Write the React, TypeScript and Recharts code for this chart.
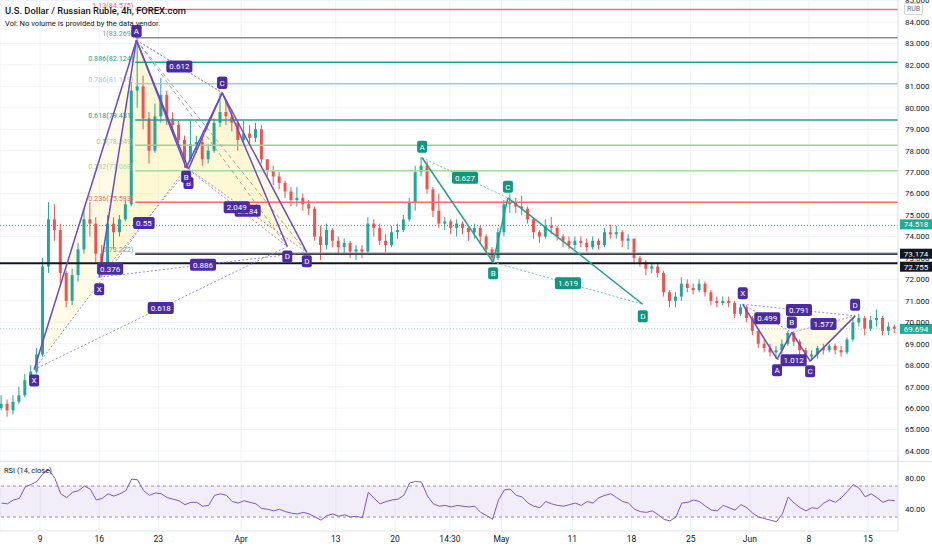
import React from 'react';
import {
  ComposedChart,
  Bar,
  Line,
  XAxis,
  YAxis,
  CartesianGrid,
  ReferenceLine,
  ReferenceDot,
  ReferenceArea,
} from 'recharts';

// half-day candles (index t)
const FIRST_OPEN = 66.0;
const closes = [
  66.2, 65.9, 66.3, 66.6, 67.3, 67.7, 68.5, 72.6, 74.8, 74.3,
  72.3, 71.0, 72.2, 73.4, 74.8, 74.6, 73.2, 72.8, 74.6, 74.2,
  74.8, 75.5, 80.8, 81.0, 79.5, 78.0, 79.6, 80.6, 79.5, 79.2,
  78.5, 77.6, 78.3, 78.4, 77.6, 78.0, 79.3, 79.8, 79.6, 79.3,
  78.5, 78.8, 78.6, 79.0, 77.6, 77.1, 76.8, 76.5, 76.1, 75.7,
  75.8, 75.5, 75.3, 74.0, 73.6, 74.3, 73.8, 73.5, 73.7, 73.3,
  73.4, 73.3, 74.6, 74.4, 73.8, 73.6, 74.2, 74.3, 74.8, 75.6,
  77.0, 77.3, 76.2, 75.2, 74.6, 74.7, 74.4, 74.6, 74.4, 74.2,
  74.4, 74.0, 73.4, 73.0, 74.2, 75.5, 75.6, 75.4, 75.3, 74.8,
  74.2, 74.0, 74.5, 74.4, 74.0, 73.8, 73.6, 73.8, 73.7, 73.5,
  73.8, 73.6, 74.2, 74.1, 74.2, 73.8, 73.9, 73.0, 72.8, 72.5,
  72.6, 72.3, 71.4, 71.0, 71.2, 71.8, 71.6, 71.5, 71.8, 71.4,
  71.0, 70.9, 71.0, 70.9, 70.4, 70.7, 70.2, 69.6, 69.0, 68.8,
  68.6, 68.7, 69.0, 69.5, 69.1, 68.7, 68.4, 68.5, 68.8, 68.7,
  68.9, 68.7, 68.6, 69.2, 70.0, 70.2, 69.7, 70.1, 70.2, 69.6,
  69.8, 69.694,
];
const highs = [
  66.6, 66.4, 66.6, 67.0, 67.6, 68.0, 68.8, 73.0, 75.6, 75.5,
  74.6, 72.4, 72.5, 73.7, 75.3, 75.6, 74.9, 73.6, 75.0, 74.9,
  75.0, 75.7, 81.2, 83.27, 81.5, 79.8, 80.2, 81.4, 80.8, 79.8,
  79.4, 78.7, 79.4, 78.7, 78.6, 78.3, 79.5, 80.7, 80.3, 79.9,
  79.4, 79.4, 79.2, 79.3, 79.2, 77.6, 77.3, 77.0, 76.6, 76.3,
  76.3, 76.0, 75.7, 75.4, 74.5, 74.6, 74.4, 74.0, 73.9, 73.8,
  73.6, 73.6, 74.9, 74.8, 74.6, 74.1, 74.5, 74.6, 75.0, 75.8,
  77.3, 77.7, 77.5, 76.3, 76.0, 74.9, 74.8, 74.8, 74.7, 74.5,
  74.6, 74.5, 74.1, 73.5, 74.4, 75.7, 76.0, 75.8, 75.9, 75.4,
  74.9, 74.3, 74.8, 74.9, 74.5, 74.1, 74.0, 74.0, 74.0, 73.9,
  74.0, 73.9, 74.4, 74.55, 74.5, 74.3, 74.1, 73.9, 73.1, 72.9,
  72.8, 72.8, 72.4, 71.5, 71.4, 72.1, 72.0, 71.8, 72.0, 71.9,
  71.5, 71.2, 71.2, 71.2, 71.0, 70.85, 70.8, 70.3, 69.7, 69.2,
  69.0, 68.9, 69.2, 69.6, 69.6, 69.2, 68.8, 68.7, 68.9, 69.0,
  69.0, 69.0, 68.9, 69.3, 70.2, 70.4, 70.3, 70.3, 70.6, 70.3,
  70.0, 69.9,
];
const lows = [
  65.9, 65.6, 65.7, 66.2, 66.5, 67.2, 67.6, 68.4, 72.3, 73.8,
  71.8, 70.7, 70.8, 71.9, 73.2, 74.0, 72.8, 72.1, 72.6, 73.4,
  74.0, 74.7, 75.4, 80.0, 79.0, 77.4, 77.9, 79.3, 79.2, 78.8,
  78.2, 77.2, 77.5, 77.9, 77.3, 77.4, 77.9, 79.1, 79.2, 78.9,
  78.0, 78.3, 78.3, 78.4, 77.4, 76.8, 76.4, 76.2, 75.8, 75.4,
  75.4, 75.2, 75.0, 73.8, 72.9, 73.4, 73.5, 73.2, 73.2, 73.0,
  72.9, 73.0, 73.2, 74.0, 73.6, 73.25, 73.5, 73.9, 74.2, 74.7,
  75.2, 76.8, 76.0, 74.9, 74.4, 74.3, 74.1, 74.0, 74.1, 73.8,
  73.9, 73.7, 73.2, 72.8, 72.9, 74.0, 75.1, 75.1, 75.0, 74.6,
  73.9, 73.7, 73.9, 74.1, 73.8, 73.5, 73.4, 73.4, 73.5, 73.3,
  73.4, 73.4, 73.5, 73.9, 73.9, 73.5, 73.4, 72.8, 72.6, 72.2,
  72.3, 72.1, 71.2, 70.7, 70.7, 71.0, 71.4, 71.3, 71.4, 71.2,
  70.8, 70.7, 70.8, 70.7, 70.2, 70.3, 70.0, 69.4, 68.8, 68.6,
  68.4, 68.3, 68.5, 68.9, 68.9, 68.5, 68.2, 68.2, 68.3, 68.5,
  68.6, 68.5, 68.4, 68.5, 69.1, 69.8, 69.4, 69.6, 69.8, 69.4,
  69.4, 69.5,
];
const rsiValues = [
  48, 47, 52, 54, 69, 72, 76, 86, 91, 80,
  60, 55, 62, 64, 70, 66, 52, 54, 60, 57,
  60, 64, 79, 78, 64, 58, 61, 60, 55, 53,
  51, 46, 49, 49, 44, 45, 58, 60, 58, 50,
  48, 51, 49, 47, 41, 40, 38, 40, 37, 35,
  34, 36, 34, 30, 26, 32, 34, 31, 33, 30,
  31, 29, 62, 54, 47, 50, 52, 53, 58, 74,
  76, 75, 57, 47, 44, 45, 43, 45, 44, 43,
  44, 36, 32, 27, 52, 65, 66, 58, 56, 48,
  44, 42, 50, 47, 45, 44, 46, 48, 45, 50,
  48, 55, 58, 60, 55, 50, 48, 40, 37, 36,
  38, 33, 27, 25, 30, 48, 49, 52, 50, 44,
  39, 38, 45, 42, 39, 46, 42, 35, 30, 28,
  26, 24, 34, 56, 48, 42, 38, 42, 41, 48,
  52, 49, 55, 63, 72, 67, 56, 60, 55, 49,
  52, 51,
];

// time axis (in candle index units)
const dayTicks = [6.5, 16.5, 26.5, 40.5, 56.5, 66.5, 75.8, 84.5, 96.5, 106.5, 116.5, 126.5, 136.5, 146.5];
const dayLabels = ['9', '16', '23', 'Apr', '13', '20', '14:30', 'May', '11', '18', '25', 'Jun', '8', '15'];
const X_DOMAIN: [number, number] = [-0.27, 151.55];

const priceTicks = [64, 65, 66, 67, 68, 69, 70, 71, 72, 73, 74, 75, 76, 77, 78, 79, 80, 81, 82, 83, 84, 85];
const PRICE_DOMAIN: [number, number] = [63.535, 85.023];
const rsiTicks = [40, 80];
const RSI_DOMAIN: [number, number] = [12, 101];

// fibonacci retracement
const FIB_START = 22.6;
const fibRatios = ['1.13', '1', '0.886', '0.786', '0.618', '0.5', '0.382', '0.236', '0'];
const fibPrices = [84.575, 83.269, 82.124, 81.119, 79.431, 78.249, 77.068, 75.593, 73.222];
const fibColors = ['#f06a86', '#8a8d96', '#22a08c', '#9cc8f2', '#22a08c', '#98d098', '#a8d8a4', '#f26b6b', '#8a8d96'];

// horizontal levels
const LEVEL_HIGH = 73.174;
const LEVEL_LOW = 72.755;
const LEVEL_DOTTED = 74.518;
const LAST_PRICE = 69.694;

// harmonic patterns: [t, price]
type Pt = [number, number];
const shark1: Pt[] = [[5.5, 67.8], [22.8, 83.15], [31.2, 77.2], [37.3, 80.7], [48.3, 73.53]];
const shark1Ratios = ['0.376', '0.612', '2.049', '0.618'];
const shark2: Pt[] = [[16.5, 72.1], [22.8, 83.15], [31.6, 77.15], [37.3, 80.7], [51.6, 73.26]];
const shark2Ratios = ['0.55', '0.612', '2.084', '0.886'];
const abcd: Pt[] = [[71.1, 77.67], [83.1, 72.8], [85.6, 75.8], [108.4, 70.84]];
const abcdRatios = ['0.627', '1.619'];
const shark3: Pt[] = [[125.3, 70.84], [131.1, 68.28], [133.6, 69.53], [136.7, 68.19], [144.3, 70.3]];
const shark3Ratios = ['0.499', '1.012', '1.577', '0.791'];

const UP = '#26a69a';
const DOWN = '#ef5350';
const PURPLE_BG = '#4b2ca0';
const PURPLE_LINE = '#6a4bc4';
const PURPLE_DOT = '#a08cdc';
const TEAL_BG = '#13967f';
const TEAL_LINE = '#22a08c';
const TEAL_DOT = '#62c4b4';
const GRID = '#f0f2f7';
const TEXT = '#131722';
const FONT = 8;

const candles = closes.map((close, i) => ({
  t: i,
  open: i === 0 ? FIRST_OPEN : closes[i - 1],
  close,
  high: highs[i],
  low: lows[i],
  range: [lows[i], highs[i]],
  rsi: rsiValues[i],
}));

const Candle = (props: any) => {
  const { x, y, width, height, payload } = props;
  if (x == null || !payload) return null;
  const { open, close, high, low } = payload;
  const color = close >= open ? UP : DOWN;
  const yTop = Math.min(y, y + height);
  const yBot = Math.max(y, y + height);
  const span = high - low || 1;
  const yOf = (v: number) => yTop + ((high - v) / span) * (yBot - yTop);
  const bTop = yOf(Math.max(open, close));
  const bBot = yOf(Math.min(open, close));
  const cx = x + width / 2;
  return (
    <g>
      <line x1={cx} x2={cx} y1={yTop} y2={yBot} stroke={color} strokeWidth={1} />
      <rect x={x} y={bTop} width={width} height={Math.max(1, bBot - bTop)} fill={color} />
    </g>
  );
};

const textWidth = (s: string) =>
  s.split('').reduce((w, ch) => w + (ch === '.' ? 2.1 : ch >= '0' && ch <= '9' ? 4.5 : 5.2), 0);

const Tag = ({ cx, cy, dy = 0, text, bg }: any) => {
  const w = text.length === 1 ? 10 : textWidth(text) + 6;
  const h = 12;
  return (
    <g>
      <rect x={cx - w / 2} y={cy + dy - h / 2} width={w} height={h} rx={2} fill={bg} />
      <text x={cx} y={cy + dy} dy="0.36em" textAnchor="middle" fill="#fff" fontSize={FONT}>
        {text}
      </text>
    </g>
  );
};

const FibLabel = ({ viewBox, text, color }: any) => {
  if (!viewBox) return null;
  return (
    <text x={viewBox.x - 2} y={viewBox.y - 1.5} textAnchor="end" fill={color} fontSize={7.2}>
      {text}
    </text>
  );
};

const PriceTag = ({ viewBox, text, bg, dy = 0 }: any) => {
  if (!viewBox) return null;
  const x = viewBox.x + viewBox.width;
  const cy = viewBox.y + dy;
  return (
    <g>
      <rect x={x + 2} y={cy - 5} width={32} height={10} fill={bg} />
      <text x={x + 18} y={cy} dy="0.36em" textAnchor="middle" fill="#fff" fontSize={FONT}>
        {text}
      </text>
    </g>
  );
};

const fillShape = (pts: Pt[]) => (props: any) => {
  const { x, y, width, height } = props;
  const ts = pts.map((p) => p[0]);
  const ps = pts.map((p) => p[1]);
  const t0 = Math.min(...ts);
  const t1 = Math.max(...ts);
  const p0 = Math.min(...ps);
  const p1 = Math.max(...ps);
  const d =
    pts
      .map(([t, p], i) => `${i ? 'L' : 'M'}${x + ((t - t0) / (t1 - t0)) * width},${y + ((p1 - p) / (p1 - p0)) * height}`)
      .join(' ') + 'Z';
  return <path d={d} fill="#fff0a8" fillOpacity={0.28} />;
};

const fill = (key: string, pts: Pt[]) => {
  const ts = pts.map((p) => p[0]);
  const ps = pts.map((p) => p[1]);
  return (
    <ReferenceArea
      key={key}
      x1={Math.min(...ts)}
      x2={Math.max(...ts)}
      y1={Math.min(...ps)}
      y2={Math.max(...ps)}
      ifOverflow="visible"
      shape={fillShape(pts)}
    />
  );
};

const seg = (key: string, a: Pt, b: Pt, stroke: string, width: number, dash?: string) => (
  <ReferenceLine
    key={key}
    segment={[{ x: a[0], y: a[1] }, { x: b[0], y: b[1] }]}
    stroke={stroke}
    strokeWidth={width}
    strokeDasharray={dash}
    ifOverflow="visible"
  />
);

const tag = (key: string, at: Pt, text: string, bg: string, dy = 0) => (
  <ReferenceDot
    key={key}
    x={at[0]}
    y={at[1]}
    r={0}
    ifOverflow="visible"
    shape={(p: any) => <Tag cx={p.cx} cy={p.cy} dy={dy} text={text} bg={bg} />}
  />
);

const mid = (a: Pt, b: Pt): Pt => [(a[0] + b[0]) / 2, (a[1] + b[1]) / 2];

const fills: React.ReactNode[] = [];
const lines: React.ReactNode[] = [];
const tags: React.ReactNode[] = [];

const addXabcd = (id: string, pts: Pt[], ratios: string[], dys: number[], grayAD: boolean, skipAC = false) => {
  const [X, A, B, C, D] = pts;
  fills.push(fill(`${id}f1`, [X, A, B]), fill(`${id}f2`, [B, C, D]));
  lines.push(
    seg(`${id}xb`, X, B, PURPLE_DOT, 1, '2 2'),
    seg(`${id}ac`, A, C, PURPLE_DOT, 1, '2 2'),
    seg(`${id}bd`, B, D, PURPLE_DOT, 1, '2 2'),
    seg(`${id}xd`, X, D, PURPLE_DOT, 1, '2 2'),
  );
  if (grayAD) lines.push(seg(`${id}ad`, A, D, '#a3a6af', 1, '4 3'));
  lines.push(
    seg(`${id}xa`, X, A, PURPLE_LINE, 1.5),
    seg(`${id}ab`, A, B, PURPLE_LINE, 1.5),
    seg(`${id}bc`, B, C, PURPLE_LINE, 1.5),
    seg(`${id}cd`, C, D, PURPLE_LINE, 1.5),
  );
  tags.push(tag(`${id}r0`, mid(X, B), ratios[0], PURPLE_BG));
  if (!skipAC) tags.push(tag(`${id}r1`, mid(A, C), ratios[1], PURPLE_BG));
  tags.push(tag(`${id}r2`, mid(B, D), ratios[2], PURPLE_BG), tag(`${id}r3`, mid(X, D), ratios[3], PURPLE_BG));
  ['X', 'A', 'B', 'C', 'D'].forEach((n, i) => tags.push(tag(`${id}${n}`, pts[i], n, PURPLE_BG, dys[i])));
};

addXabcd('s2', shark2, shark2Ratios, [12, -9, 14, -10, 9], true, true);
addXabcd('s1', shark1, shark1Ratios, [11, -9, 9, -10, 10], true);
addXabcd('s3', shark3, shark3Ratios, [-11, 11, -10, 10, -11], false);

{
  const [A, B, C, D] = abcd;
  lines.push(
    seg('tac', A, C, TEAL_DOT, 1, '2 2'),
    seg('tbd', B, D, TEAL_DOT, 1, '2 2'),
    seg('tab', A, B, TEAL_LINE, 1.5),
    seg('tbc', B, C, TEAL_LINE, 1.5),
    seg('tcd', C, D, TEAL_LINE, 1.5),
  );
  tags.push(
    tag('tr0', mid(A, C), abcdRatios[0], TEAL_BG),
    tag('tr1', mid(B, D), abcdRatios[1], TEAL_BG),
    tag('tA', A, 'A', TEAL_BG, -11),
    tag('tB', B, 'B', TEAL_BG, 11),
    tag('tC', C, 'C', TEAL_BG, -11),
    tag('tD', D, 'D', TEAL_BG, 12),
  );
}

const App = () => {
  const tickStyle = { fontSize: FONT, fill: TEXT };
  return (
    <div
      style={{
        position: 'absolute',
        left: 0,
        top: 0,
        width: 932,
        height: 550,
        background: '#fff',
        overflow: 'hidden',
        fontFamily: 'Roboto, "Noto Sans", sans-serif',
      }}
    >
      <div style={{ position: 'absolute', left: 0, top: 0 }}>
        <ComposedChart width={932} height={461} data={candles} margin={{ top: 0, right: 0, bottom: 0, left: 0 }}>
          <CartesianGrid stroke={GRID} />
          <XAxis dataKey="t" type="number" domain={X_DOMAIN} ticks={dayTicks} allowDataOverflow hide />
          <YAxis
            orientation="right"
            width={34}
            domain={PRICE_DOMAIN}
            ticks={priceTicks}
            interval={0}
            allowDataOverflow
            tickFormatter={(v: number) => v.toFixed(3)}
            tick={tickStyle}
            tickLine={false}
            tickSize={3}
            tickMargin={4}
            axisLine={{ stroke: '#e0e3eb' }}
          />
          {fills}
          <Bar dataKey="range" barSize={3} isAnimationActive={false} shape={(p: any) => <Candle {...p} />} />
          {fibPrices.map((v, i) => (
            <ReferenceLine
              key={`fib${i}`}
              segment={[{ x: FIB_START, y: v }, { x: X_DOMAIN[1], y: v }]}
              stroke={fibColors[i]}
              strokeWidth={1.5}
              ifOverflow="visible"
              label={<FibLabel text={`${fibRatios[i]}(${v.toFixed(3)})`} color={fibColors[i]} />}
            />
          ))}
          <ReferenceLine
            y={LEVEL_DOTTED}
            stroke={UP}
            strokeDasharray="1 2"
            label={<PriceTag text={LEVEL_DOTTED.toFixed(3)} bg="#22ab94" dy={-1} />}
          />
          <ReferenceLine
            y={LAST_PRICE}
            stroke={UP}
            strokeOpacity={0.5}
            strokeDasharray="1 2"
            label={<PriceTag text={LAST_PRICE.toFixed(3)} bg="#22ab94" />}
          />
          <ReferenceLine
            segment={[{ x: FIB_START, y: LEVEL_HIGH }, { x: X_DOMAIN[1], y: LEVEL_HIGH }]}
            stroke="#3c3f48"
            strokeWidth={1.5}
            ifOverflow="visible"
            label={<PriceTag text={LEVEL_HIGH.toFixed(3)} bg={TEXT} dy={-0.5} />}
          />
          <ReferenceLine
            y={LEVEL_LOW}
            stroke={TEXT}
            strokeWidth={2}
            label={<PriceTag text={LEVEL_LOW.toFixed(3)} bg={TEXT} dy={3.5} />}
          />
          {lines}
          {tags}
        </ComposedChart>
      </div>
      <div style={{ position: 'absolute', left: 0, top: 461, width: 932, height: 1, background: '#e0e3eb' }} />
      <div style={{ position: 'absolute', left: 0, top: 462 }}>
        <ComposedChart width={932} height={88} data={candles} margin={{ top: 0, right: 0, bottom: 0, left: 0 }}>
          <CartesianGrid stroke={GRID} horizontal={false} />
          <XAxis
            dataKey="t"
            type="number"
            domain={X_DOMAIN}
            ticks={dayTicks}
            interval={0}
            allowDataOverflow
            tickFormatter={(v: number) => dayLabels[dayTicks.indexOf(v)]}
            tick={{ fontSize: 8.5, fill: TEXT }}
            tickLine={false}
            tickSize={3}
            tickMargin={2}
            height={19}
            axisLine={{ stroke: '#e0e3eb' }}
          />
          <YAxis
            orientation="right"
            width={34}
            domain={RSI_DOMAIN}
            ticks={rsiTicks}
            interval={0}
            allowDataOverflow
            tickFormatter={(v: number) => v.toFixed(2)}
            tick={tickStyle}
            tickLine={false}
            tickSize={3}
            tickMargin={4}
            axisLine={{ stroke: '#e0e3eb' }}
          />
          <ReferenceArea y1={30} y2={70} fill="#7e57c2" fillOpacity={0.1} stroke="none" />
          <ReferenceLine y={70} stroke="#9a8cbf" strokeDasharray="3 3" />
          <ReferenceLine y={30} stroke="#9a8cbf" strokeDasharray="3 3" />
          <Line type="linear" dataKey="rsi" stroke="#7e57c2" strokeWidth={1} dot={false} isAnimationActive={false} />
        </ComposedChart>
      </div>
      <div style={{ position: 'absolute', left: 5, top: 5, fontSize: 9.4, fontWeight: 500, color: TEXT, pointerEvents: 'none' }}>
        U.S. Dollar / Russian Ruble, 4h, FOREX.com
      </div>
      <div style={{ position: 'absolute', left: 5, top: 19, fontSize: 7.6, color: TEXT, pointerEvents: 'none' }}>
        Vol: No volume is provided by the data vendor.
      </div>
      <div style={{ position: 'absolute', left: 4, top: 466, fontSize: 7.5, color: TEXT, pointerEvents: 'none' }}>
        RSI (14, close)
      </div>
      <div
        style={{
          position: 'absolute',
          left: 904,
          top: 3,
          fontSize: 7,
          lineHeight: '10px',
          color: '#6a6d78',
          border: '1px solid #d1d4dc',
          borderRadius: 2,
          padding: '0 2px',
          background: '#fff',
        }}
      >
        RUB
      </div>
    </div>
  );
};

export default App;
